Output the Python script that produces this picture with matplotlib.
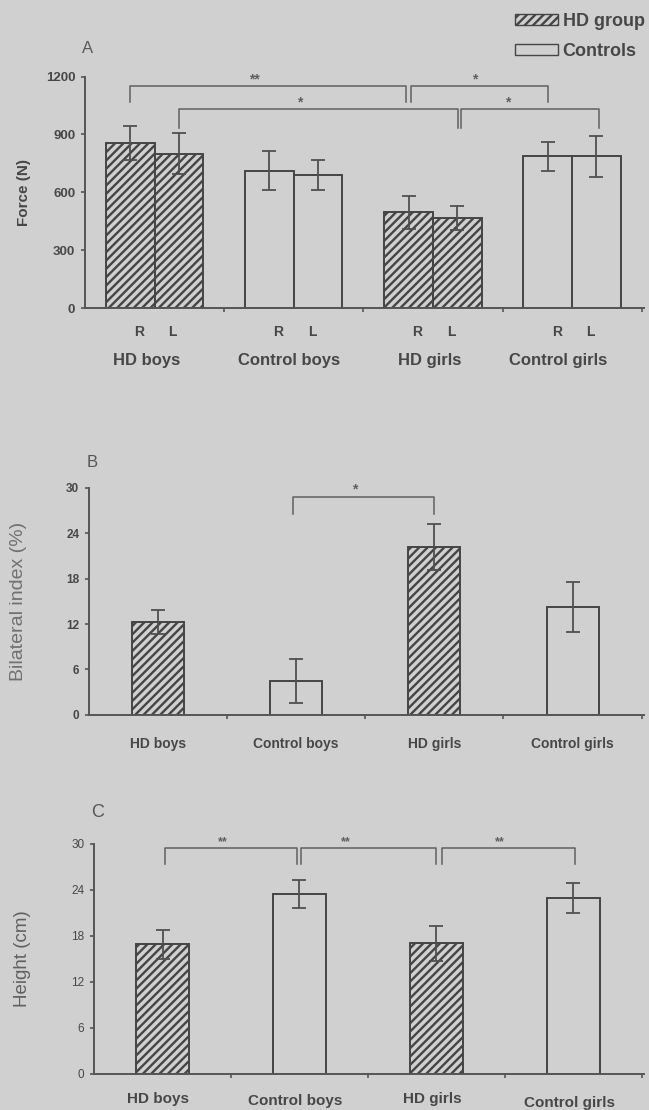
import matplotlib
matplotlib.use('Agg')
from matplotlib import pyplot as plt
from matplotlib.patches import Patch
import numpy as np

# panel A - force, right / left
groups = ['HD boys', 'Control boys', 'HD girls', 'Control girls']
force_r = [855, 712, 497, 786]
force_r_err = [90, 100, 85, 75]
force_l = [800, 690, 468, 786]
force_l_err = [105, 77, 62, 105]

# panel B - bilateral index
bilat = [12.3, 4.5, 22.2, 14.2]
bilat_err = [1.6, 2.9, 3.0, 3.3]

# panel C - jump height
height = [16.9, 23.4, 17.0, 22.9]
height_err = [1.9, 1.8, 2.3, 2.0]

hd_group = [True, False, True, False]

bg = '#d0d0d0'
ink = '#474747'
plt.rcParams['font.family'] = ['Liberation Sans', 'DejaVu Sans']
plt.rcParams['font.weight'] = 'bold'
plt.rcParams['hatch.linewidth'] = 1.7
plt.rcParams['hatch.color'] = '#505050'

fig = plt.figure(figsize=(6.49, 11.10), dpi=100, facecolor=bg)


def style_axes(ax, ymax, step, tick_fs, tick_w='bold'):
    ax.set_facecolor(bg)
    ax.patch.set_alpha(0)
    for s in ['top', 'right']:
        ax.spines[s].set_visible(False)
    for s in ['left', 'bottom']:
        ax.spines[s].set_color('#555555')
        ax.spines[s].set_linewidth(1.4)
    ax.set_xlim(0, 4.02)
    ax.set_ylim(0, ymax)
    ax.set_yticks(np.arange(0, ymax + 1, step))
    ax.set_xticks([1, 2, 3, 4])
    ax.set_xticklabels([])
    ax.tick_params(axis='both', direction='out', length=3, width=1.2, colors='#555555',
                   labelsize=tick_fs, pad=4)
    for t in ax.get_yticklabels():
        t.set_color(ink)
        t.set_fontweight(tick_w)


def bars(ax, x, vals, errs, width):
    for xi, v, e, hd in zip(x, vals, errs, hd_group):
        ax.bar(xi, v, width=width, color=bg, edgecolor='#454545', linewidth=1.4,
               hatch='////' if hd else None, zorder=2)
        ax.errorbar(xi, v, yerr=e, color='#505050', capsize=5, elinewidth=1.3,
                    capthick=1.3, zorder=3)


def bracket(ax, x0, x1, y, leg, star, xs, ys, fs=10):
    ax.plot([x0, x0, x1, x1], [y - leg, y, y, y - leg], color='#606060', lw=1.1,
            clip_on=False, zorder=4)
    ax.text(xs, ys, star, ha='center', va='center', fontsize=fs, color='#606060', clip_on=False)


centers = np.arange(4) + 0.5

# ---------- A
axA = fig.add_axes([0.131, 0.7225, 0.862, 0.2085])
style_axes(axA, 1200, 300, 9.5)
bars(axA, centers - 0.175, force_r, force_r_err, 0.35)
bars(axA, centers + 0.175, force_l, force_l_err, 0.35)
axA.set_ylabel('Force (N)', fontsize=11, color=ink, fontweight='bold')
axA.yaxis.set_label_coords(-0.097, 0.5)
for c, g, off in zip(centers, groups, [-0.06, -0.035, -0.025, -0.1]):
    axA.text(c - 0.11, -125, 'R', ha='center', va='center', fontsize=10, color=ink)
    axA.text(c + 0.13, -125, 'L', ha='center', va='center', fontsize=10, color=ink)
    axA.text(c + off, -270, g, ha='center', va='center', fontsize=12, color=ink)
bracket(axA, 0.325, 2.31, 1153, 85, '**', 1.22, 1185)
bracket(axA, 2.34, 3.325, 1153, 85, '*', 2.8, 1185)
bracket(axA, 0.675, 2.68, 1033, 100, '*', 1.54, 1065)
bracket(axA, 2.70, 3.69, 1033, 100, '*', 3.04, 1065)
axA.text(-0.005, 1.12, 'A', transform=axA.transAxes, fontsize=12, color='#5a5a5a',
         fontweight='normal', ha='left', va='center')

# ---------- B
axB = fig.add_axes([0.137, 0.356, 0.856, 0.2045])
style_axes(axB, 30, 6, 8.5)
bars(axB, centers, bilat, bilat_err, 0.375)
axB.set_ylabel('Bilateral index (%)', fontsize=14, color='#707070', fontweight='normal')
axB.yaxis.set_label_coords(-0.112, 0.5)
for c, g in zip(centers, groups):
    axB.text(c, -3.9, g, ha='center', va='center', fontsize=10, color=ink)
bracket(axB, 1.476, 2.5, 28.8, 2.2, '*', 1.92, 29.8)
axB.text(-0.005, 1.11, 'B', transform=axB.transAxes, fontsize=12, color='#555555',
         fontweight='normal', ha='left', va='center')

# ---------- C
axC = fig.add_axes([0.145, 0.0325, 0.848, 0.2075])
style_axes(axC, 30, 6, 8.5, 'normal')
bars(axC, centers, height, height_err, 0.387)
axC.set_ylabel('Height (cm)', fontsize=13.5, color='#606060', fontweight='normal')
axC.yaxis.set_label_coords(-0.115, 0.5)
for c, g, dy in zip(centers, groups, [3.3, 3.5, 3.3, 3.8]):
    axC.text(c - 0.03, -dy, g, ha='center', va='center', fontsize=11, color=ink)
bracket(axC, 0.52, 1.48, 29.4, 2.1, '**', 0.94, 30.2, fs=9)
bracket(axC, 1.51, 2.5, 29.4, 2.1, '**', 1.84, 30.2, fs=9)
bracket(axC, 2.54, 3.51, 29.4, 2.1, '**', 2.96, 30.2, fs=9)
axC.text(-0.005, 1.135, 'C', transform=axC.transAxes, fontsize=13, color='#555555',
         fontweight='normal', ha='left', va='center')

# legend
handles = [Patch(facecolor=bg, edgecolor='#454545', hatch='////', label='HD group'),
           Patch(facecolor=bg, edgecolor='#454545', label='Controls')]
leg = fig.legend(handles=handles, loc='upper right', bbox_to_anchor=(1.01, 0.998),
                 frameon=False, fontsize=13, handlelength=2.4, handleheight=0.6,
                 handletextpad=0.25, labelspacing=0.7, borderaxespad=0.2)
for t in leg.get_texts():
    t.set_color(ink)

fig.savefig('out.png', dpi=100, facecolor=bg)
